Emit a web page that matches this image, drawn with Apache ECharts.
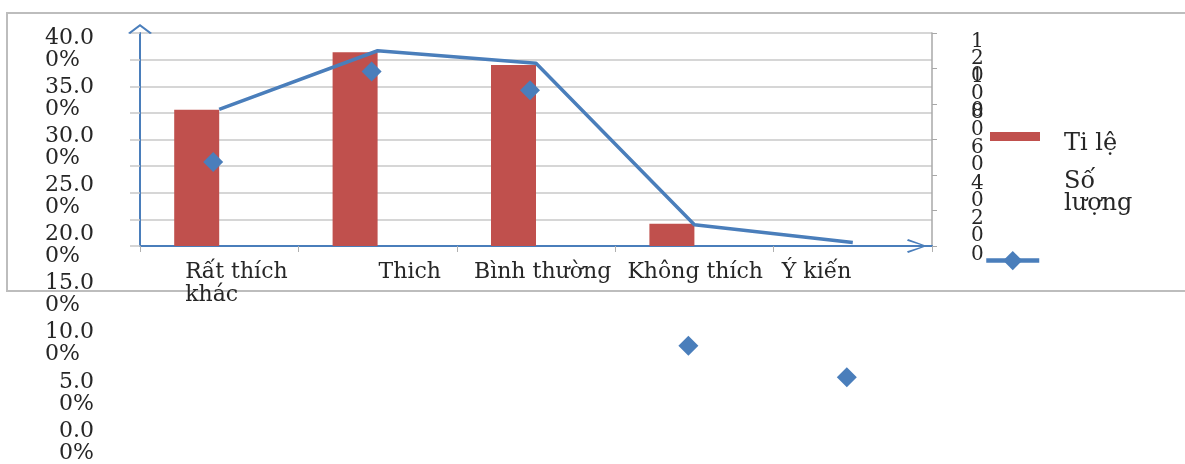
<!DOCTYPE html>
<html><head><meta charset="utf-8">
<script src="https://cdn.jsdelivr.net/npm/echarts@6/dist/echarts.min.js"></script>
<style>html,body{margin:0;padding:0;background:#fff}#c{width:1185px;height:464px}</style>
</head><body><div id="c"></div>
<script>
// ---- data ----
const categories = ['Rất thích', 'Thich', 'Bình thường', 'Không thích', 'Ý kiến khác'];
const xTickLabels = ['Rất thích\nkhác', 'Thich', 'Bình thường', 'Không thích', 'Ý kiến'];
const tiLe = [32.8, 38.2, 37.0, 22.1, 0];            // bars, left axis 20–40 %
const soLuong = [77, 110, 103, 12, 2];                // line, right axis 0–120
const soLuongMarkers = [28.5, 37.7, 35.8, 9.8, 6.6];  // displaced diamond markers, 0–40 % scale
const countTickLabels = ['0', '20', '40', '60', '80', '100', '120'];
const barAxis = { min: 20, max: 40, interval: 2.5 };
const pctLabelAxis = { min: 0, max: 40, interval: 5 };
const countAxis = { min: 0, max: 120, interval: 20 };

// ---- style ----
const FONT = 'DejaVu Serif';
const BLUE = '#4a7ebb';
const RED = '#c0504d';
const GRID_GRAY = '#c8c8c8';
const TXT = '#262626';
const xLabelPad = [232, 302, 176, 166, 158];
const arrowUp = 'path://M0,9 L12,0 L24,9 L22,10 L12,2.5 L2,10 Z';
const arrowRight = 'path://M0,19 L7,0 L14,19 L12.3,20 L7,3.2 L1.7,20 Z';

const chart = echarts.init(document.getElementById('c'));
chart.setOption({
  animation: false,
  textStyle: { fontFamily: FONT },
  graphic: [{
    type: 'rect', shape: { x: 7, y: 13, width: 1200, height: 278 },
    style: { fill: 'none', stroke: '#bdbdbd', lineWidth: 2 }, z: -10, silent: true
  }],
  grid: [
    { left: 140, top: 33, width: 792, height: 213 },
    { left: 134, top: 49, width: 792, height: 399 }
  ],
  legend: [
    { // bar swatch
      data: ['Ti lệ'], left: 990, top: 132, padding: 0,
      icon: 'rect', itemWidth: 50, itemHeight: 9, selectedMode: false,
      formatter: () => ' ', textStyle: { fontSize: 8 }
    },
    { // bar legend text
      data: [{ name: 'Ti lệ', icon: 'none' }], left: 1058, top: 131, padding: 0,
      itemWidth: 1, itemHeight: 10, selectedMode: false,
      textStyle: { fontFamily: FONT, fontSize: 24, lineHeight: 26, color: TXT }
    },
    { // line legend text
      data: [{ name: 'Số lượng', icon: 'none' }], left: 1058, top: 170, padding: 0,
      itemWidth: 1, itemHeight: 10, selectedMode: false,
      formatter: n => n.replace(' ', '\n'),
      textStyle: { fontFamily: FONT, fontSize: 24, lineHeight: 22, color: TXT }
    },
    { // line swatch
      data: ['Số lượng'], left: 984, top: 251, padding: 0,
      itemWidth: 53, itemHeight: 24, selectedMode: false,
      lineStyle: { width: 4.5 },
      formatter: () => ' ', textStyle: { fontSize: 8 }
    }
  ],
  xAxis: [
    {
      type: 'category', gridIndex: 0,
      data: categories.map((c, i) => ({ value: c, textStyle: { padding: [0, 0, 0, xLabelPad[i]] } })),
      axisLine: { lineStyle: { color: BLUE, width: 2 }, symbol: ['none', arrowRight], symbolSize: [14, 20], symbolOffset: [0, -15] },
      axisTick: { show: true, length: 6, lineStyle: { color: '#b0b0b0' } },
      axisLabel: {
        interval: 0, margin: 15, color: TXT, fontSize: 22,
        formatter: (v, i) => xTickLabels[i].split('\n').map(s => '{a|' + s + '}').join('\n'),
        rich: { a: { width: 300, align: 'left', fontSize: 22, lineHeight: 23, fontFamily: FONT, color: TXT } }
      },
      splitLine: { show: false }
    },
    {
      type: 'category', gridIndex: 1, data: categories,
      axisLine: { show: false }, axisTick: { show: false }, axisLabel: { show: false }, splitLine: { show: false }
    }
  ],
  yAxis: [
    {
      type: 'value', gridIndex: 0, position: 'left',
      min: barAxis.min, max: barAxis.max, interval: barAxis.interval,
      axisLine: { show: true, lineStyle: { color: BLUE, width: 2 }, symbol: ['none', arrowUp], symbolSize: [24, 10], symbolOffset: [0, 4] },
      axisTick: { show: true, length: 10, lineStyle: { color: GRID_GRAY, width: 1.5 } },
      axisLabel: { show: false },
      splitLine: { lineStyle: { color: GRID_GRAY, width: 1.5 } }
    },
    {
      type: 'value', gridIndex: 0, position: 'right',
      min: countAxis.min, max: countAxis.max, interval: countAxis.interval,
      axisLine: { show: true, lineStyle: { color: '#a8a8a8', width: 1.5 } },
      axisTick: { show: true, length: 5, lineStyle: { color: '#a8a8a8' } },
      axisLabel: { show: false },
      splitLine: { show: false }
    },
    {
      type: 'value', gridIndex: 1, position: 'left',
      min: pctLabelAxis.min, max: pctLabelAxis.max, interval: pctLabelAxis.interval,
      axisLine: { show: false }, axisTick: { show: false }, splitLine: { show: false },
      axisLabel: {
        margin: 40, color: TXT, showMinLabel: true, showMaxLabel: true,
        formatter: v => { const s = v.toFixed(2) + '%'; return '{a|' + s.slice(0, -2) + '}\n{a|' + s.slice(-2) + '}'; },
        rich: { a: { align: 'left', fontSize: 22, lineHeight: 22, fontFamily: FONT, color: TXT } }
      }
    },
    { // tick labels of the right (count) axis, stacked digit by digit
      type: 'category', gridIndex: 0, position: 'right', data: countTickLabels, boundaryGap: false,
      axisLine: { show: false }, axisTick: { show: false }, splitLine: { show: false },
      axisLabel: {
        interval: 0, margin: 39, color: TXT, fontSize: 20, lineHeight: 17, verticalAlign: 'top',
        formatter: v => String(v).split('').join('\n')
      }
    }
  ],
  series: [
    {
      name: 'Ti lệ', type: 'bar', xAxisIndex: 0, yAxisIndex: 0, data: tiLe,
      barWidth: 45, barGap: '0%', clip: true, itemStyle: { color: RED }
    },
    {
      name: '_slot', type: 'bar', xAxisIndex: 0, yAxisIndex: 0, data: [],
      barWidth: 45
    },
    {
      name: 'Số lượng', type: 'line', xAxisIndex: 0, yAxisIndex: 1, data: soLuong,
      symbol: 'diamond', showSymbol: false, lineStyle: { color: BLUE, width: 3.5 },
      itemStyle: { color: BLUE }, z: 5
    },
    {
      name: 'Số lượng', type: 'scatter', xAxisIndex: 1, yAxisIndex: 2, data: soLuongMarkers,
      symbol: 'diamond', symbolSize: 20, itemStyle: { color: '#4a7ebb', opacity: 1 }, z: 6
    }
  ]
});
</script></body></html>
